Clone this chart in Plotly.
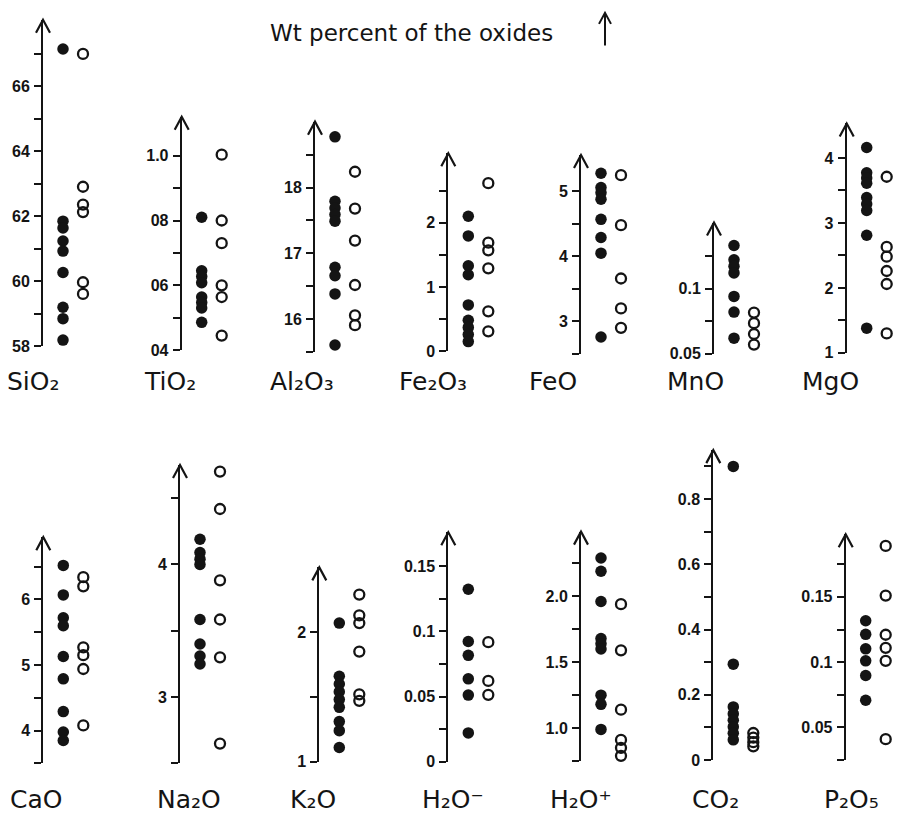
import plotly.graph_objects as go

# ---------------- data (wt % oxides) ----------------
OXIDES = ["SiO₂", "TiO₂", "Al₂O₃", "Fe₂O₃", "FeO", "MnO", "MgO",
          "CaO", "Na₂O", "K₂O", "H₂O⁻", "H₂O⁺", "CO₂", "P₂O₅"]

SIO2_F = [67.15, 61.85, 61.64, 61.24, 60.93, 60.27, 59.20, 58.85, 58.19]
SIO2_O = [67.0, 62.91, 62.36, 62.13, 59.97, 59.61]
TIO2_F = [0.81, 0.645, 0.627, 0.608, 0.564, 0.547, 0.530, 0.486]
TIO2_O = [1.003, 0.80, 0.73, 0.60, 0.564, 0.445]
AL2O3_F = [18.77, 17.79, 17.69, 17.59, 17.49, 16.79, 16.66, 16.385, 15.61]
AL2O3_O = [18.24, 17.68, 17.195, 16.52, 16.06, 15.91]
FE2O3_F = [2.10, 1.795, 1.33, 1.19, 0.72, 0.48, 0.37, 0.26, 0.15]
FE2O3_O = [2.615, 1.69, 1.57, 1.29, 0.62, 0.31]
FEO_F = [5.28, 5.06, 4.98, 4.88, 4.57, 4.29, 4.05, 2.76]
FEO_O = [5.25, 4.48, 3.66, 3.20, 2.90, 2.41]
MNO_F = [0.133, 0.122, 0.117, 0.112, 0.094, 0.082, 0.062]
MNO_O = [0.0816, 0.0735, 0.0652, 0.0571]
MGO_F = [4.16, 3.77, 3.69, 3.61, 3.39, 3.29, 3.19, 2.81, 1.38]
MGO_O = [3.71, 2.63, 2.48, 2.26, 2.06, 1.30]
CAO_F = [6.52, 6.07, 5.72, 5.60, 5.13, 4.79, 4.29, 3.98, 3.85]
CAO_O = [6.34, 6.20, 5.27, 5.15, 4.94, 4.08]
NA2O_F = [4.19, 4.09, 4.04, 4.00, 3.585, 3.40, 3.31, 3.25]
NA2O_O = [4.70, 4.418, 3.88, 3.585, 3.30, 2.65]
K2O_F = [2.07, 1.66, 1.60, 1.54, 1.48, 1.42, 1.31, 1.24, 1.11]
K2O_O = [2.29, 2.13, 2.07, 1.85, 1.52, 1.47]
H2OM_F = [0.1323, 0.0922, 0.0816, 0.0636, 0.0511, 0.0221]
H2OM_O = [0.0917, 0.062, 0.0513]
H2OP_F = [2.29, 2.19, 1.96, 1.68, 1.64, 1.60, 1.25, 1.18, 0.99]
H2OP_O = [1.94, 1.59, 1.14, 0.91, 0.85, 0.79]
CO2_F = [0.90, 0.294, 0.163, 0.142, 0.122, 0.102, 0.082, 0.062]
CO2_O = [0.083, 0.069, 0.055, 0.042]
P2O5_F = [0.1317, 0.1213, 0.1102, 0.101, 0.0898, 0.0708]
P2O5_O = [0.189, 0.151, 0.121, 0.111, 0.101, 0.041]

FILLED = [SIO2_F, TIO2_F, AL2O3_F, FE2O3_F, FEO_F, MNO_F, MGO_F,
          CAO_F, NA2O_F, K2O_F, H2OM_F, H2OP_F, CO2_F, P2O5_F]
OPEN = [SIO2_O, TIO2_O, AL2O3_O, FE2O3_O, FEO_O, MNO_O, MGO_O,
        CAO_O, NA2O_O, K2O_O, H2OM_O, H2OP_O, CO2_O, P2O5_O]

# labelled (major) ticks
MAJOR_VALS = [
    [58, 60, 62, 64, 66],
    [0.4, 0.6, 0.8, 1.0],
    [16, 17, 18],
    [0, 1, 2],
    [3, 4, 5],
    [0.05, 0.1],
    [1, 2, 3, 4],
    [4, 5, 6],
    [3, 4],
    [1, 2],
    [0, 0.05, 0.1, 0.15],
    [1.0, 1.5, 2.0],
    [0, 0.2, 0.4, 0.6, 0.8],
    [0.05, 0.1, 0.15],
]
MAJOR_TEXT = [
    ["58", "60", "62", "64", "66"],
    ["04", "06", "08", "1.0"],
    ["16", "17", "18"],
    ["0", "1", "2"],
    ["3", "4", "5"],
    ["0.05", "0.1"],
    ["1", "2", "3", "4"],
    ["4", "5", "6"],
    ["3", "4"],
    ["1", "2"],
    ["0", "0.05", "0.1", "0.15"],
    ["1.0", "1.5", "2.0"],
    ["0", "0.2", "0.4", "0.6", "0.8"],
    ["0.05", "0.1", "0.15"],
]
# unlabelled (minor) ticks
MINOR_VALS = [
    [59, 61, 63, 65, 67],
    [0.5, 0.7, 0.9],
    [15.5, 16.5, 17.5, 18.5],
    [0.5, 1.5, 2.5],
    [2.5, 3.5, 4.5],
    [0.075, 0.125],
    [1.5, 2.5, 3.5],
    [3.5, 4.5, 5.5, 6.5],
    [2.5, 3.5, 4.5],
    [1.5],
    [0.025, 0.075, 0.125],
    [0.75, 1.25, 1.75, 2.25],
    [0.1, 0.3, 0.5, 0.7, 0.9],
    [0.025, 0.075, 0.125, 0.175],
]
# axis extent (bottom value, arrow-tip value)
YRANGE = [(58, 68.05), (0.4, 1.12), (15.5, 19.0), (0, 3.08), (2.5, 5.56), (0.05, 0.1505), (1, 4.53),
          (3.5, 6.95), (2.5, 4.75), (1, 2.5), (0, 0.176), (0.75, 2.49), (0, 0.95), (0.025, 0.198)]

# ---------------- layout geometry (pixels) ----------------
W, H = 900, 840
AXIS_X = [43, 181.7, 315, 448.3, 581, 714, 846.7, 43.3, 180, 319.3, 448.3, 581, 713.3, 845.7]
BOTTOM_PX = [350, 354, 356, 355, 357.7, 357.7, 356.7, 771.7, 771.7, 770, 770, 769.3, 768.3, 768.3]
TIP_PX = [20, 118, 123, 155, 156.7, 225, 124.8, 543, 470, 573.5, 538, 537.4, 455, 540]
LABEL_X = [5, 142, 268, 397, 527, 665, 800, 8, 155, 288, 420, 548, 690, 822]

fig = go.Figure()
layout = dict(width=W, height=H, margin=dict(l=0, r=0, t=0, b=0),
              paper_bgcolor="white", plot_bgcolor="rgba(0,0,0,0)", showlegend=False)
annotations = []
shapes = []
INK = "#141414"
CHEVRON = "M-7,-13 L0,0 L7,-13"

for i in range(14):
    n = i + 1
    xa = "x" if n == 1 else f"x{n}"
    ya = "y" if n == 1 else f"y{n}"
    xkey = "xaxis" if n == 1 else f"xaxis{n}"
    ykey = "yaxis" if n == 1 else f"yaxis{n}"
    x0 = AXIS_X[i] / W
    layout[xkey] = dict(domain=[x0, x0 + 50 / W], range=[0, 2.5], visible=False,
                        anchor=ya, fixedrange=True)
    layout[ykey] = dict(domain=[1 - BOTTOM_PX[i] / H, 1 - TIP_PX[i] / H], range=list(YRANGE[i]),
                        anchor=xa, showline=True, linecolor=INK, linewidth=2,
                        tickmode="array", tickvals=MAJOR_VALS[i], ticktext=MAJOR_TEXT[i],
                        ticks="outside", ticklen=7, tickwidth=1.6, tickcolor=INK,
                        minor=dict(tickmode="array", tickvals=MINOR_VALS[i], ticks="outside",
                                   ticklen=7, tickwidth=1.6, tickcolor=INK, showgrid=False),
                        showgrid=False, zeroline=False, ticklabelstandoff=1,
                        tickfont=dict(family="Liberation Sans", size=16, color=INK, weight="bold"))
    fig.add_trace(go.Scatter(x=[1] * len(FILLED[i]), y=FILLED[i], mode="markers",
                             xaxis=xa, yaxis=ya, cliponaxis=False,
                             marker=dict(symbol="circle", size=11.5, color=INK)))
    fig.add_trace(go.Scatter(x=[2] * len(OPEN[i]), y=OPEN[i], mode="markers",
                             xaxis=xa, yaxis=ya, cliponaxis=False,
                             marker=dict(symbol="circle-open", size=10, color=INK,
                                         line=dict(width=2.3, color=INK))))
    # chevron arrow head at the top of the axis
    shapes.append(dict(type="path", xref=f"{xa} domain", yref=f"{ya} domain",
                       xsizemode="pixel", ysizemode="pixel", xanchor=0, yanchor=1,
                       path=CHEVRON, line=dict(color=INK, width=2.2), layer="above"))
    # oxide label
    ly = 386 if i < 7 else 808
    annotations.append(dict(xref="paper", yref="paper", x=LABEL_X[i] / W, y=1 - ly / H,
                            xanchor="left", yanchor="middle", text=OXIDES[i], showarrow=False,
                            font=dict(family="DejaVu Sans", size=25, color=INK)))

annotations.append(dict(xref="paper", yref="paper", x=411 / W, y=1 - 33 / H, yanchor="middle",
                        text="Wt percent of the oxides", yshift=0,
                        showarrow=False, font=dict(family="DejaVu Sans", size=23, color=INK)))
# title arrow
shapes.append(dict(type="line", xref="paper", yref="paper", x0=605 / W, x1=605 / W,
                   y0=1 - 46 / H, y1=1 - 13 / H, line=dict(color=INK, width=2)))
shapes.append(dict(type="path", xref="paper", yref="paper", xsizemode="pixel", ysizemode="pixel",
                   xanchor=605 / W, yanchor=1 - 13 / H, path="M-6,-11 L0,0 L6,-11",
                   line=dict(color=INK, width=2)))
layout["annotations"] = annotations
layout["shapes"] = shapes
fig.update_layout(**layout)
fig.write_html("out.html")
